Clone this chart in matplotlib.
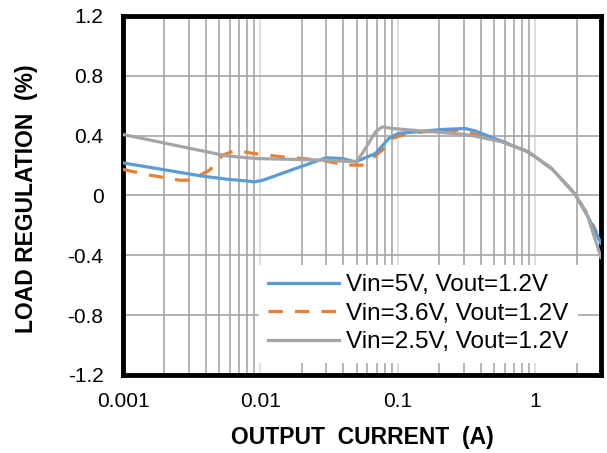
import matplotlib
matplotlib.use('Agg')
import matplotlib.pyplot as plt
from matplotlib.ticker import LogLocator, FixedLocator, NullFormatter

plt.rcParams['font.family'] = ['Liberation Sans', 'DejaVu Sans']

# Vin=5V
x_5v = [0.001, 0.00381, 0.00596, 0.00787, 0.00904, 0.0104, 0.0181, 0.0299, 0.0394,
        0.0492, 0.0687, 0.0857, 0.1005, 0.208, 0.308, 0.364, 0.567, 0.885, 1.31,
        1.93, 2.41, 3.0]
y_5v = [0.218, 0.129, 0.107, 0.098, 0.091, 0.102, 0.181, 0.252, 0.247,
        0.225, 0.281, 0.381, 0.415, 0.441, 0.448, 0.432, 0.363, 0.292, 0.181,
        0.013, -0.14, -0.32]

# Vin=3.6V
x_36v = [0.001, 0.00157, 0.00259, 0.00306, 0.00427, 0.00532, 0.00665, 0.0088, 0.0145,
         0.0282, 0.0417, 0.055, 0.0649, 0.0767, 0.0906, 0.12, 0.208, 0.291, 0.364,
         0.567, 0.838, 1.31, 1.93, 2.41, 2.8]
y_36v = [0.174, 0.136, 0.102, 0.102, 0.169, 0.27, 0.303, 0.281, 0.258,
         0.236, 0.203, 0.203, 0.247, 0.303, 0.381, 0.419, 0.432, 0.437, 0.41,
         0.363, 0.303, 0.18, 0.013, -0.13, -0.25]

# Vin=2.5V
x_25v = [0.001, 0.00564, 0.0093, 0.0299, 0.0492, 0.055, 0.0687, 0.0767, 0.0906,
         0.291, 0.364, 0.567, 0.885, 1.31, 1.93, 2.41, 3.0]
y_25v = [0.408, 0.265, 0.247, 0.236, 0.225, 0.28, 0.425, 0.459, 0.448,
         0.41, 0.397, 0.359, 0.292, 0.181, 0.013, -0.143, -0.415]

labels = ['Vin=5V, Vout=1.2V', 'Vin=3.6V, Vout=1.2V', 'Vin=2.5V, Vout=1.2V']
colors = ['#5B9BD5', '#ED7D31', '#A5A5A5']

fig = plt.figure(figsize=(6.07, 4.53), dpi=100)
ax = fig.add_axes([0.2026, 0.1722, 0.7875, 0.7925])

ax.plot(x_5v, y_5v, color=colors[0], lw=2.3, label=labels[0], zorder=4)
ax.plot(x_36v, y_36v, color=colors[1], lw=2.3, ls=(0, (4.5, 3.8)), label=labels[1], zorder=3)
ax.plot(x_25v, y_25v, color=colors[2], lw=2.3, label=labels[2], zorder=5)

ax.set_xscale('log')
ax.set_xlim(0.001, 3)
ax.set_ylim(-1.2, 1.2)
ax.set_yticks([-1.2, -0.8, -0.4, 0, 0.4, 0.8, 1.2])
ax.set_yticklabels(['-1.2', '-0.8', '-0.4', '0', '0.4', '0.8', '1.2'])
ax.xaxis.set_major_locator(FixedLocator([0.001, 0.01, 0.1, 1]))
ax.set_xticklabels(['0.001', '0.01', '0.1', '1'])
ax.xaxis.set_minor_locator(LogLocator(base=10, subs=range(2, 10), numticks=20))
ax.xaxis.set_minor_formatter(NullFormatter())

ax.grid(which='major', axis='x', color='#D9D9D9', lw=1.2)
ax.grid(which='minor', axis='x', color='#A6A6A6', lw=1.2)
ax.grid(which='major', axis='y', color='#A6A6A6', lw=1.2)
ax.set_axisbelow(True)

ax.tick_params(which='both', length=0, labelsize=15, colors='black')
ax.tick_params(axis='y', pad=14)
ax.tick_params(axis='x', pad=12)

for s in ax.spines.values():
    s.set_linewidth(3.5)
    s.set_color('black')

ax.set_xlabel('OUTPUT  CURRENT  (A)', fontsize=16.5, fontweight='bold', va='center')
ax.set_ylabel('LOAD REGULATION  (%)', fontsize=16.5, fontweight='bold', va='center')
ax.xaxis.set_label_coords(0.5, -0.175)
ax.yaxis.set_label_coords(-0.201, 0.49)

leg = ax.legend(loc='lower right', bbox_to_anchor=(0.952, 0.033), borderaxespad=0,
                fontsize=17.5, frameon=True, fancybox=False, framealpha=1,
                handlelength=2.9, handletextpad=0.3, labelspacing=0.27,
                borderpad=0.4)
leg.get_frame().set_edgecolor('white')
leg.get_frame().set_linewidth(0)

fig.savefig('out.png', dpi=100)
